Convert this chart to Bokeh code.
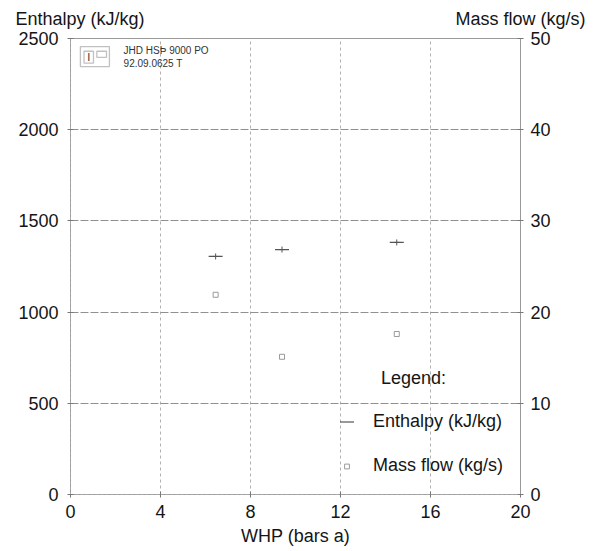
from bokeh.plotting import figure
from bokeh.models import (Range1d, LinearAxis, FixedTicker, Label, Legend, LegendItem,
                          BoxAnnotation)
from bokeh.embed import file_html
from bokeh.resources import INLINE

# ---- data ----
whp = [6.45, 9.4, 14.5]                 # WHP (bars a)
enthalpy = [1305, 1343, 1382]           # kJ/kg
mass_flow = [21.9, 15.1, 17.6]          # kg/s

x_ticks = [0, 4, 8, 12, 16, 20]
y_ticks = [0, 500, 1000, 1500, 2000, 2500]
y2_ticks = [0, 10, 20, 30, 40, 50]
axis_titles = ["Enthalpy (kJ/kg)", "Mass flow (kg/s)"]

FONT = "Liberation Sans"
TXT = "#151515"

p = figure(width=599, height=551, output_backend="svg", toolbar_location=None,
           x_range=Range1d(0, 20), y_range=Range1d(0, 2500),
           min_border_left=70, min_border_right=79, min_border_top=38, min_border_bottom=57)
p.extra_y_ranges = {"mass": Range1d(0, 50)}
p.outline_line_color = "#9a9a9a"
p.outline_line_width = 1

# axes
p.xaxis.axis_label = "WHP (bars a)"
for ax in [p.xaxis[0], p.yaxis[0]]:
    ax.major_label_text_font = FONT
    ax.major_label_text_font_size = "18px"
    ax.major_label_text_color = TXT
    ax.axis_line_color = "#aaaaaa"
    ax.axis_line_dash = "3 2"
    ax.major_tick_line_color = "#777777"
    ax.major_tick_in = 3
    ax.major_tick_out = 3
    ax.minor_tick_line_color = None
p.xaxis.ticker = FixedTicker(ticks=x_ticks)
p.yaxis.ticker = FixedTicker(ticks=y_ticks)
p.xaxis.major_label_standoff = 7
p.yaxis.major_label_standoff = 9
p.xaxis.axis_label_text_font = FONT
p.xaxis.axis_label_text_font_size = "18px"
p.xaxis.axis_label_text_font_style = "normal"
p.xaxis.axis_label_text_color = TXT
p.xaxis.axis_label_standoff = 5

ax2 = LinearAxis(y_range_name="mass", ticker=FixedTicker(ticks=y2_ticks))
ax2.major_label_text_font = FONT
ax2.major_label_text_font_size = "18px"
ax2.major_label_text_color = TXT
ax2.axis_line_color = "#999999"
ax2.major_tick_line_color = "#777777"
ax2.major_tick_in = 3
ax2.major_tick_out = 3
ax2.minor_tick_line_color = None
ax2.major_label_standoff = 7
p.add_layout(ax2, "right")

# titles of the two y axes, set above the frame at its left and right ends
title_pos = [0.42, 20]
ax_top = LinearAxis(ticker=FixedTicker(ticks=title_pos),
                    major_label_overrides={t: s for t, s in zip(title_pos, axis_titles)})
ax_top.axis_line_color = None
ax_top.major_tick_line_color = None
ax_top.minor_tick_line_color = None
ax_top.major_tick_out = 0
ax_top.major_tick_in = 0
ax_top.major_label_standoff = 10
ax_top.major_label_text_font = FONT
ax_top.major_label_text_font_size = "18px"
ax_top.major_label_text_color = TXT
p.add_layout(ax_top, "above")

# grid
p.xgrid.ticker = FixedTicker(ticks=x_ticks)
p.ygrid.ticker = FixedTicker(ticks=y_ticks)
p.xgrid.grid_line_color = "#b0b0b0"
p.xgrid.grid_line_dash = "3 3"
p.ygrid.grid_line_color = "#909090"
p.ygrid.grid_line_dash = "8 2"

# data glyphs
r_ent = p.scatter(whp, enthalpy, marker="dash", size=14, line_color="#555555", line_width=1.2)
p.scatter(whp, enthalpy, marker="cross", size=6, line_color="#555555", line_width=1)
r_mass = p.scatter(whp, mass_flow, y_range_name="mass", marker="square", size=5,
                   fill_color=None, line_color="#9a9a9a", line_width=1)

# legend (two blocks so that each glyph gets its own size)
leg_style = dict(orientation="vertical", padding=0, margin=0, spacing=0,
                 glyph_width=35, label_standoff=9, label_height=20,
                 label_text_font=FONT, label_text_font_size="18px", label_text_color=TXT,
                 border_line_alpha=0, background_fill_alpha=0)
leg1 = Legend(items=[LegendItem(label="Enthalpy (kJ/kg)", renderers=[r_ent])],
              location=(259, 55), glyph_height=35, **leg_style)
leg2 = Legend(items=[LegendItem(label="Mass flow (kg/s)", renderers=[r_mass])],
              location=(259, 18), glyph_height=12, **leg_style)
p.add_layout(leg1, "center")
p.add_layout(leg2, "center")
p.add_layout(Label(x=13.8, y=636, text="Legend:", text_font=FONT, text_font_size="18px",
                   text_color=TXT, text_baseline="middle"))

# stamp in upper-left corner
p.add_layout(BoxAnnotation(left=0.44, right=1.73, top=2456, bottom=2346, fill_alpha=0,
                           line_color="#333333", line_width=1.3))
p.add_layout(BoxAnnotation(left=0.6, right=1.02, top=2430, bottom=2365, fill_alpha=0,
                           line_color="#333333", line_width=1.3))
p.add_layout(BoxAnnotation(left=1.17, right=1.6, top=2430, bottom=2397, fill_alpha=0,
                           line_color="#333333", line_width=1.3))
p.add_layout(Label(x=0.81, y=2397, text="I", text_font=FONT, text_font_size="11px",
                   text_color="#333333", text_baseline="middle", text_align="center"))
p.add_layout(Label(x=2.36, y=2434, text="JHD HSÞ 9000 PO", text_font=FONT,
                   text_font_size="10px", text_color="#333333", text_baseline="middle"))
p.add_layout(Label(x=2.36, y=2363, text="92.09.0625 T", text_font=FONT,
                   text_font_size="10px", text_color="#333333", text_baseline="middle"))

open("out.html", "w").write(file_html(p, INLINE))
